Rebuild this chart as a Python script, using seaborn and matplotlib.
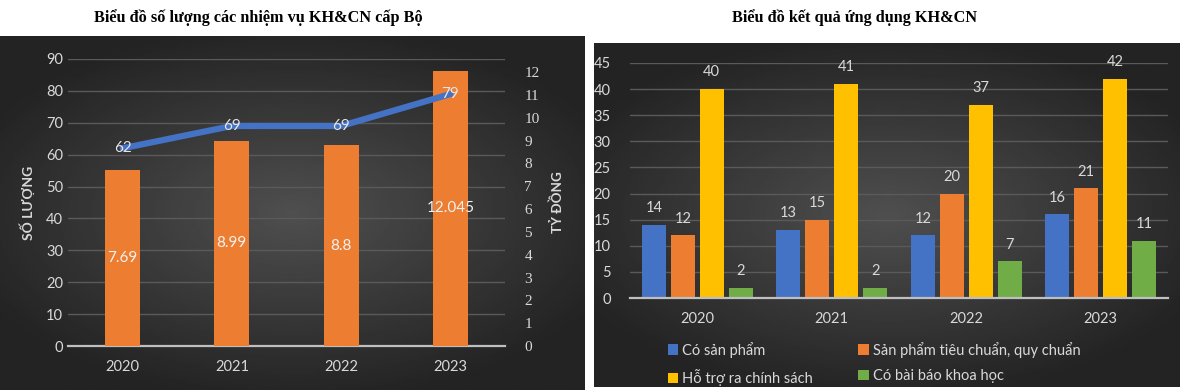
"""
Two Excel-style dark charts: KH&CN tasks (bar + line) and application results (grouped bars)
"""

import numpy as np
import pandas as pd
import matplotlib
matplotlib.use('Agg')
import matplotlib.pyplot as plt
import seaborn as sns

sns.set_style("white")
plt.rcParams['font.family'] = ['Lato', 'DejaVu Sans']

# --- data ---
years = ['2020', '2021', '2022', '2023']
task_count = [62, 69, 69, 79]              # line, left axis (Số lượng)
funding = [7.69, 8.99, 8.8, 12.045]        # bars, right axis (Tỷ đồng)
funding_labels = ['7.69', '8.99', '8.8', '12.045']

series_names = ['Có sản phẩm', 'Sản phẩm tiêu chuẩn, quy chuẩn',
                'Hỗ trợ ra chính sách', 'Có bài báo khoa học']
products = [14, 13, 12, 16]
standards = [12, 15, 20, 21]
policy = [40, 41, 37, 42]
papers = [2, 2, 7, 11]

left_ticks = list(range(0, 91, 10))
right_ticks = list(range(0, 13))
res_ticks = list(range(0, 46, 5))

BLUE = '#4472C4'
ORANGE = '#ED7D31'
YELLOW = '#FFC000'
GREEN = '#70AD47'
TXT = '#d9d9d9'
GRID = '#5a5a5a'
AXIS = '#bfbfbf'

W, H = 1180, 390
fig = plt.figure(figsize=(W / 100, H / 100), dpi=100)
fig.patch.set_facecolor('white')


def px_rect(x0, y0, x1, y1):
    return [x0 / W, 1 - y1 / H, (x1 - x0) / W, (y1 - y0) / H]


def gradient_panel(rect):
    bg = fig.add_axes(rect, zorder=-10)
    yy, xx = np.mgrid[-1:1:200j, -1:1:400j]
    r = np.sqrt((xx * 0.9) ** 2 + (yy * 1.0) ** 2)
    img = np.clip(0.31 - 0.16 * r, 0.14, 0.32)
    bg.imshow(img, cmap='gray', vmin=0, vmax=1, aspect='auto', extent=[0, 1, 0, 1])
    bg.set_axis_off()
    return bg


def style_axis(ax):
    for s in ['top', 'right', 'left']:
        ax.spines[s].set_visible(False)
    ax.spines['bottom'].set_color(AXIS)
    ax.spines['bottom'].set_linewidth(1.6)
    ax.patch.set_visible(False)
    ax.tick_params(length=0, colors=TXT, labelsize=10.5)


# --- backgrounds ---
gradient_panel(px_rect(0, 36, 585, 390))
gradient_panel(px_rect(594, 43, 1180, 387))

fig.text(258 / W, 1 - 18 / H, 'Biểu đồ số lượng các nhiệm vụ KH&CN cấp Bộ',
         ha='center', va='center', fontsize=11.7, fontweight='bold',
         family=['Liberation Serif', 'DejaVu Serif'], color='black')
fig.text(855 / W, 1 - 18 / H, 'Biểu đồ kết quả ứng dụng KH&CN',
         ha='center', va='center', fontsize=11.7, fontweight='bold',
         family=['Liberation Serif', 'DejaVu Serif'], color='black')

# --- left chart ---
ax = fig.add_axes(px_rect(68, 59, 505, 346))
style_axis(ax)
ax.set_ylim(0, 90)
ax.set_yticks(left_ticks)
ax.grid(axis='y', color=GRID, linewidth=1)
ax.set_axisbelow(True)
ax.set_ylabel('SỐ LƯỢNG', color=TXT, fontsize=10, fontweight='bold', labelpad=8)

ax2 = ax.twinx()
style_axis(ax2)
ax2.spines['bottom'].set_visible(False)
sns.barplot(x=years, y=funding, ax=ax2, color=ORANGE, width=0.32,
            saturation=1, linewidth=0, edgecolor='none')
ax2.set_xlim(-0.5, 3.5)
ax2.set_ylim(0, 12.57)
ax2.set_yticks(right_ticks)
ax2.set_yticklabels([str(t) for t in right_ticks],
                    family=['Liberation Serif', 'DejaVu Serif'], fontsize=11)
ax2.tick_params(axis='y', pad=14)
ax2.set_ylabel('TỶ ĐỒNG', color=TXT, fontsize=9.7, fontweight='bold', labelpad=8)
ax2.bar_label(ax2.containers[0], labels=funding_labels, label_type='center',
              color='#f2f2f2', fontsize=11)

ax3 = ax.twinx()
ax3.set_axis_off()
sns.lineplot(x=range(len(years)), y=task_count, ax=ax3, color=BLUE, linewidth=4.5)
ax3.set_xlim(-0.5, 3.5)
ax3.set_ylim(0, 90)
for i, v in enumerate(task_count):
    ax3.text(i, v, str(v), ha='center', va='center', color='#e6e6e6', fontsize=11)

ax.set_xlim(-0.5, 3.5)
ax.set_xticks(range(len(years)))
ax.set_xticklabels(years)
ax.tick_params(axis='x', pad=10)

# --- right chart ---
df = pd.DataFrame({
    'year': years * 4,
    'series': [series_names[0]] * 4 + [series_names[1]] * 4
              + [series_names[2]] * 4 + [series_names[3]] * 4,
    'value': products + standards + policy + papers,
})

axr = fig.add_axes(px_rect(630, 63, 1168, 298))
style_axis(axr)
sns.barplot(data=df, x='year', y='value', hue='series', ax=axr,
            palette=[BLUE, ORANGE, YELLOW, GREEN], width=0.86, gap=0.17,
            saturation=1, linewidth=0, edgecolor='none')
axr.set_xlim(-0.5, 3.5)
axr.set_ylim(0, 45)
axr.set_yticks(res_ticks)
axr.grid(axis='y', color=GRID, linewidth=1)
axr.set_axisbelow(True)
axr.set_xlabel('')
axr.set_ylabel('')
axr.tick_params(axis='x', pad=10)
axr.tick_params(axis='y', pad=14)
for cont in axr.containers:
    axr.bar_label(cont, padding=7, color=TXT, fontsize=10.5)

handles, labels = axr.get_legend_handles_labels()
axr.get_legend().remove()
order = [0, 2, 1, 3]   # row-wise order like Excel
leg = axr.legend([handles[i] for i in order], [labels[i] for i in order],
                 ncol=2, loc='upper left',
                 bbox_to_anchor=(0.046, -0.13), frameon=False,
                 fontsize=10.5, labelcolor=TXT, handlelength=0.7,
                 handleheight=0.7, handletextpad=0.3, columnspacing=3.1,
                 labelspacing=0.8)

fig.savefig('out.png', dpi=100)
